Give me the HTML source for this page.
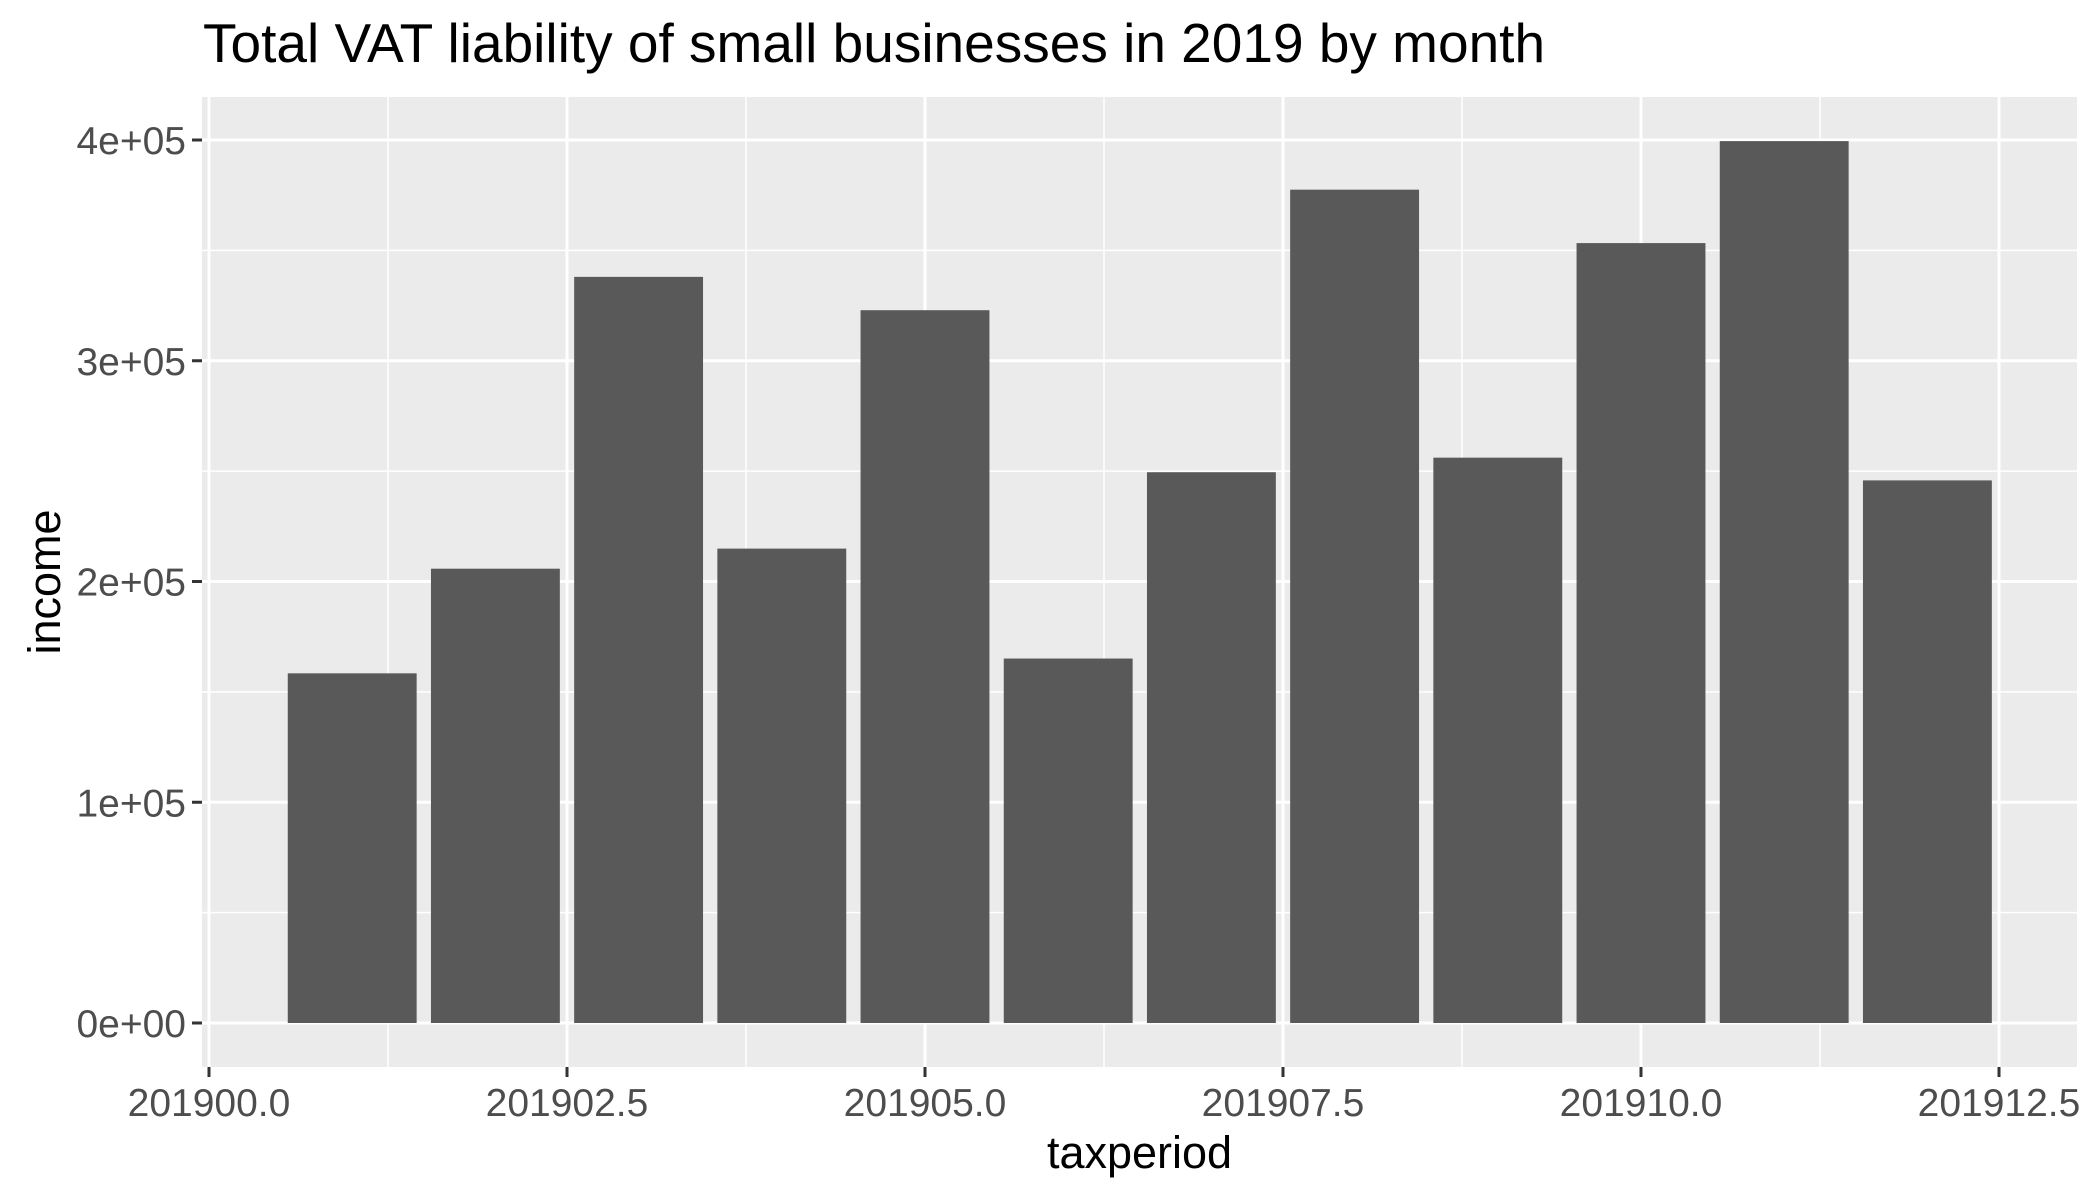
<!DOCTYPE html>
<html><head><meta charset="utf-8"><style>
body{margin:0;background:#fff;}
svg{display:block;font-family:"Liberation Sans",Arial,sans-serif;}
</style></head><body>
<svg id="chart" width="2100" height="1200">
<text x="203" y="62" font-size="55" fill="#000">Total VAT liability of small businesses in 2019 by month</text>
<rect x="202" y="97" width="1875" height="970" fill="#EBEBEB"/>
<g id="grid"></g>
<g id="bars"></g>
<g id="axes"></g>
<text x="1139.5" y="1168" font-size="45" text-anchor="middle" fill="#000">taxperiod</text>
<text transform="translate(60,582) rotate(-90)" font-size="45" text-anchor="middle" fill="#000">income</text>
</svg>
<script>
const months=[201901,201902,201903,201904,201905,201906,201907,201908,201909,201910,201911,201912];
const income=[158400,205800,338000,214900,322900,165100,249500,377500,256100,353300,399500,245800];
const xTicks=[201900,201902.5,201905,201907.5,201910,201912.5];
const xTickLabels=["201900.0","201902.5","201905.0","201907.5","201910.0","201912.5"];
const yTicks=[0,100000,200000,300000,400000];
const yTickLabels=["0e+00","1e+05","2e+05","3e+05","4e+05"];
const NS="http://www.w3.org/2000/svg";
const PL=202,PR=2077,PT=97,PB=1067;
const x=v=>209+(v-201900)*143.2;
const y=v=>1023-v/100000*220.75;
function mk(tag,attrs,parent){const e=document.createElementNS(NS,tag);for(const k in attrs)e.setAttribute(k,attrs[k]);parent.appendChild(e);return e;}
const grid=document.getElementById('grid'),bars=document.getElementById('bars'),axes=document.getElementById('axes');
for(let i=0;i<xTicks.length-1;i++){const mx=(xTicks[i]+xTicks[i+1])/2;const l=mk('line',{x1:x(mx),x2:x(mx),y1:PT,y2:PB,stroke:'#fff','stroke-width':1.5},grid);

}
const extraMinorY=[-50000,50000,150000,250000,350000];
extraMinorY.forEach(v=>{const yy=y(v);if(yy<PT||yy>PB)return;const l=mk('line',{x1:PL,x2:PR,y1:yy,y2:yy,stroke:'#fff','stroke-width':1.5},grid);

});
xTicks.forEach((t,i)=>{const l=mk('line',{x1:x(t),x2:x(t),y1:PT,y2:PB,stroke:'#fff','stroke-width':3},grid);


const tk=mk('line',{x1:x(t),x2:x(t),y1:PB,y2:PB+10,stroke:'#333','stroke-width':3},axes);


const tx=mk('text',{x:x(t),y:1116,'font-size':39,fill:'#4D4D4D','text-anchor':'middle'},axes);tx.textContent=xTickLabels[i];

});
yTicks.forEach((t,i)=>{const l=mk('line',{x1:PL,x2:PR,y1:y(t),y2:y(t),stroke:'#fff','stroke-width':3},grid);


const tk=mk('line',{x1:PL-10,x2:PL,y1:y(t),y2:y(t),stroke:'#333','stroke-width':3},axes);


const tx=mk('text',{x:PL-16,y:y(t)+14,'font-size':39,fill:'#4D4D4D','text-anchor':'end'},axes);tx.textContent=yTickLabels[i];

});
months.forEach((m,i)=>{const w=0.9*143.2;const r=mk('rect',{x:x(m)-w/2,y:y(income[i]),width:w,height:y(0)-y(income[i]),fill:'#595959'},bars);

});
</script>
</body></html>
